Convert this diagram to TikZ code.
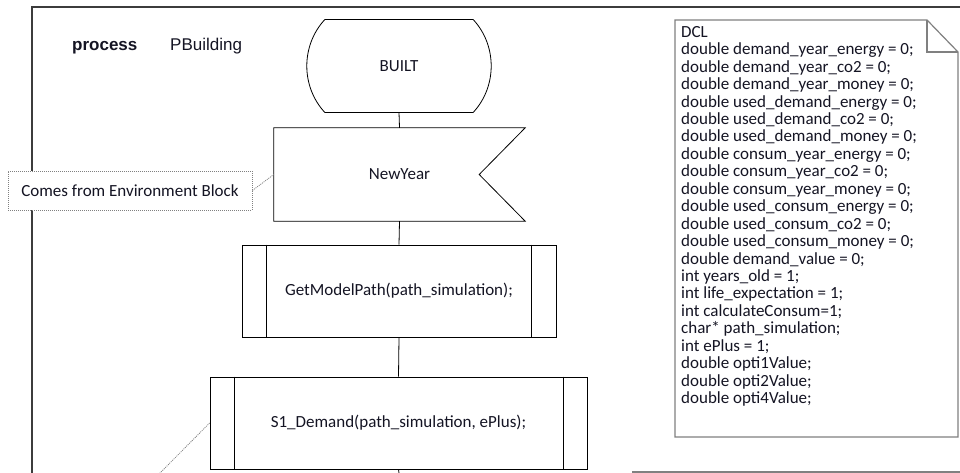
\documentclass[tikz,border=0pt]{standalone}
\usepackage{fontspec}
\setmainfont{Carlito}
\newfontfamily\arialfont{Liberation Sans}

\definecolor{sdlcolor0001}{RGB}{60,60,60}
\definecolor{sdlcolor0002}{RGB}{128,128,128}
\definecolor{sdlcolor0003}{RGB}{20,20,35}

\begin{document}
\begin{tikzpicture}[yscale=-1
            ,pstyle0/.style={color=sdlcolor0001,line width=1.2pt}
            ,pstyle1/.style={color=black,line width=0.8pt}
            ,pstyle2/.style={draw=sdlcolor0002,line width=0.8pt,dash pattern=on 1pt off 1pt}
            ,pstyle3/.style={color=sdlcolor0002,line width=1.2pt}
            ,tstyle0/.style={inner sep=0pt,color=sdlcolor0003,font=\fontsize{17pt}{17.45pt}\selectfont}
        ]
        \useasboundingbox (0pt,0pt) rectangle (960pt,473pt);
        \draw[pstyle0] (32pt,473pt) -- (32pt,7pt) -- (960pt,7pt);
        \node[tstyle0,anchor=base west,font=\fontsize{17pt}{20pt}\arialfont\bfseries] (kwprocess) at (72pt,50.5pt) {process};
        \node[tstyle0,anchor=base west,font=\fontsize{17pt}{20pt}\arialfont] (procname) at (170pt,51pt) {PBuilding};
        % start state
        \node[tstyle0,minimum width=148pt,minimum height=92.5pt] (built) at (399pt,66pt) {BUILT};
        \draw[pstyle1] (built.north west) -- (built.north east) .. controls +(24pt,26pt) and +(24pt,-26pt) .. (built.south east)
            -- (built.south west) .. controls +(-24pt,-26pt) and +(-24pt,26pt) .. (built.north west) -- cycle;
        % input signal
        \node[tstyle0,minimum width=251pt,minimum height=93pt] (newyear) at (399.5pt,174.5pt) {NewYear};
        \draw[pstyle1] (newyear.north west) -- (newyear.north east) -- ([xshift=-46pt]newyear.east) -- (newyear.south east) -- (newyear.south west) -- cycle;
        \node[tstyle0,pstyle2,fill=white,minimum width=244pt,minimum height=39pt] (envnote) at (130pt,190.5pt) {Comes from Environment Block};
        % procedure calls
        \node[tstyle0,draw=black,line width=0.8pt,minimum width=314pt,minimum height=92pt] (getpath) at (399pt,291pt) {GetModelPath(path\_simulation);};
        \draw[pstyle1] ([xshift=25pt]getpath.north west) -- ([xshift=25pt]getpath.south west);
        \draw[pstyle1] ([xshift=-25pt]getpath.north east) -- ([xshift=-25pt]getpath.south east);
        \node[tstyle0,draw=black,line width=0.8pt,minimum width=377pt,minimum height=92pt] (sdemand) at (398.5pt,423pt) {S1\_Demand(path\_simulation, ePlus);};
        \draw[pstyle1] ([xshift=25pt]sdemand.north west) -- ([xshift=25pt]sdemand.south west);
        \draw[pstyle1] ([xshift=-24pt]sdemand.north east) -- ([xshift=-24pt]sdemand.south east);
        \coordinate (flowend) at (399pt,473pt);
        \coordinate (cutend) at (160pt,473pt);
        \draw[pstyle1] (built.south) -- (newyear.north);
        \draw[pstyle1] (newyear.south) -- (getpath.north);
        \draw[pstyle1] (getpath.south) -- (sdemand.north);
        \draw[pstyle1] (sdemand.south) -- (flowend);
        \draw[pstyle2] (envnote.east) -- (newyear.west);
        \draw[pstyle2] (sdemand.west) -- (cutend);
        % declarations
        \draw[pstyle3,fill=white] (675pt,20pt) -- (927pt,20pt) -- (958pt,52pt) -- (958pt,437pt) -- (675pt,437pt) -- cycle;
        \draw[pstyle3] (927pt,20pt) -- (927pt,52pt) -- (958pt,52pt);
        \node[tstyle0,below right,align=left] (dcl) at (681pt,26pt) {DCL\\
            double demand\_year\_energy = 0;\\
            double demand\_year\_co2 = 0;\\
            double demand\_year\_money = 0;\\
            double used\_demand\_energy = 0;\\
            double used\_demand\_co2 = 0;\\
            double used\_demand\_money = 0;\\
            double consum\_year\_energy = 0;\\
            double consum\_year\_co2 = 0;\\
            double consum\_year\_money = 0;\\
            double used\_consum\_energy = 0;\\
            double used\_consum\_co2 = 0;\\
            double used\_consum\_money = 0;\\
            double demand\_value = 0;\\
            int years\_old = 1;\\
            int life\_expectation = 1;\\
            int calculateConsum=1;\\
            char* path\_simulation;\\
            int ePlus = 1;\\
            double opti1Value;\\
            double opti2Value;\\
            double opti4Value;};
        \draw[pstyle3] (632pt,472pt) -- (960pt,472pt);
    \end{tikzpicture}
\end{document}
